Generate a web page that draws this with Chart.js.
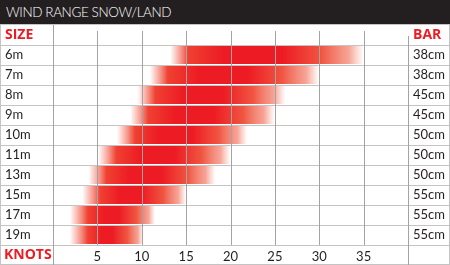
<!DOCTYPE html>
<html>
<head>
<meta charset="utf-8">
<script src="https://cdn.jsdelivr.net/npm/chart.js@4/dist/chart.umd.min.js"></script>
<style>
  html, body { margin:0; padding:0; background:#fff; }
  #wrap { position:relative; width:450px; height:265px; overflow:hidden; }
  #title { position:absolute; left:0; top:0; width:450px; height:24px; background:#231f20; color:#fff;
           font-family:"Lato","DejaVu Sans",sans-serif; font-weight:300; font-size:13.5px; line-height:24px; padding-left:6px; box-sizing:border-box; z-index:2; letter-spacing:-0.4px;}
  canvas { position:absolute; left:0; top:0; }
</style>
</head>
<body>
<div id="wrap">
  <div id="title">WIND RANGE SNOW/LAND</div>
  <canvas id="c" width="450" height="265"></canvas>
</div>
<script>
// ---- data ----
const sizes = ['SIZE', '6m', '7m', '8m', '9m', '10m', '11m', '13m', '15m', '17m', '19m'];
const barLengths = ['BAR', '38cm', '38cm', '45cm', '45cm', '50cm', '50cm', '50cm', '55cm', '55cm', '55cm'];
const windMin = [null, 13.2, 10.9, 9.5, 8.7, 7.2, 5.1, 4.0, 3.3, 1.9, 1.9];
const windMax = [null, 35.0, 30.0, 26.2, 25.0, 21.9, 20.0, 18.3, 15.0, 11.5, 10.2];
const knotTicks = [5, 10, 15, 20, 25, 30, 35];
const xMin = 0, xMax = 40;

const RED = '#ed1c24';
const ranges = windMin.map((v, i) => v === null ? null : [v, windMax[i]]);

function barGradient(ctx) {
  const chart = ctx.chart;
  if (!chart.chartArea || !ctx.raw) return RED;
  const xs = chart.scales.x;
  const x0 = xs.getPixelForValue(ctx.raw[0]);
  const x1 = xs.getPixelForValue(ctx.raw[1]);
  const w = Math.max(1, x1 - x0);
  const g = chart.ctx.createLinearGradient(x0, 0, x1, 0);
  const lf = Math.min(0.3, 18 / w);
  const rf = 0.22;
  g.addColorStop(0, 'rgba(240,80,60,0)');
  g.addColorStop(lf * 0.5, 'rgba(240,80,60,0.5)');
  g.addColorStop(lf, 'rgba(239,65,50,1)');
  g.addColorStop(Math.min(0.5, lf + 0.18), 'rgba(237,28,36,1)');
  g.addColorStop(0.58, 'rgba(237,28,36,1)');
  g.addColorStop(1 - rf, 'rgba(240,85,65,1)');
  g.addColorStop(1 - rf * 0.35, 'rgba(243,125,105,0.7)');
  g.addColorStop(1, 'rgba(245,145,125,0)');
  return g;
}

const gridPlugin = {
  id: 'gridLines',
  afterDatasetsDraw(chart) {
    const c = chart.ctx;
    const xs = chart.scales.x, ys = chart.scales.y;
    const W = chart.width, H = chart.height;
    c.save();
    // horizontal row lines across full width
    c.strokeStyle = '#c4c4c4';
    c.lineWidth = 1;
    for (let i = 0; i < sizes.length; i++) {
      const yb = Math.round(ys.getPixelForValue(i) + ys.height / sizes.length / 2) + 0.5;
      c.beginPath(); c.moveTo(0, yb); c.lineTo(W, yb); c.stroke();
    }
    c.beginPath(); c.moveTo(0, 24.5); c.lineTo(W, 24.5); c.stroke();
    c.beginPath(); c.moveTo(0, H - 0.5); c.lineTo(W, H - 0.5); c.stroke();
    c.beginPath(); c.moveTo(0.5, 24); c.lineTo(0.5, H); c.stroke();
    c.beginPath(); c.moveTo(W - 0.5, 24); c.lineTo(W - 0.5, H); c.stroke();
    // vertical knot lines
    c.strokeStyle = '#a3a3a3';
    const top = chart.chartArea.top, bot = chart.chartArea.bottom;
    for (let k = xMin; k <= xMax; k += 5) {
      const xp = Math.round(xs.getPixelForValue(k)) + 0.5;
      c.beginPath();
      if (k === xMin) { c.moveTo(xp, top); c.lineTo(xp, H); }
      else if (k === xMax) { c.moveTo(xp, top + 11); c.lineTo(xp, H); }
      else { c.moveTo(xp, top + 6); c.lineTo(xp, bot); }
      c.stroke();
    }
    // KNOTS label
    c.fillStyle = RED;
    c.font = 'bold 14px "Open Sans", "DejaVu Sans", sans-serif';
    c.textAlign = 'left';
    c.textBaseline = 'middle';
    c.fillText('KNOTS', 4, (bot + H) / 2 + 0.5);
    c.restore();
  }
};

new Chart(document.getElementById('c'), {
  type: 'bar',
  data: {
    labels: sizes,
    datasets: [{
      data: ranges,
      backgroundColor: barGradient,
      borderWidth: 0,
      barPercentage: 0.9,
      categoryPercentage: 1.0,
      yAxisID: 'y'
    }]
  },
  options: {
    indexAxis: 'y',
    responsive: false,
    animation: false,
    events: [],
    layout: { padding: { top: 25, left: 5, right: 0, bottom: 0 } },
    plugins: { legend: { display: false }, tooltip: { enabled: false }, title: { display: false } },
    scales: {
      x: {
        type: 'linear', min: xMin, max: xMax,
        afterBuildTicks(s) { s.ticks = knotTicks.map(v => ({ value: v })); },
        afterFit(s) { s.height = 20; },
        grid: { display: false, drawTicks: false },
        border: { display: false },
        ticks: {
          color: '#231f20', padding: 4,
          font: { family: '"Lato", "DejaVu Sans", sans-serif', size: 13 }
        }
      },
      y: {
        type: 'category', position: 'left',
        afterFit(s) { s.width = 48; },
        grid: { display: false, drawTicks: false },
        border: { display: false },
        ticks: {
          crossAlign: 'far', padding: 0,
          color: (c) => c.index === 0 ? RED : '#231f20',
          font: (c) => c.index === 0
            ? { family: '"Open Sans", "DejaVu Sans", sans-serif', size: 14, weight: 'bold' }
            : { family: '"Lato", "DejaVu Sans", sans-serif', size: 13 }
        }
      },
      y2: {
        type: 'category', position: 'right', labels: barLengths,
        afterFit(s) { s.width = 42; },
        grid: { display: false, drawTicks: false },
        border: { display: false },
        ticks: {
          crossAlign: 'near', padding: 5,
          color: (c) => c.index === 0 ? RED : '#231f20',
          font: (c) => c.index === 0
            ? { family: '"Open Sans", "DejaVu Sans", sans-serif', size: 14, weight: 'bold' }
            : { family: '"Lato", "DejaVu Sans", sans-serif', size: 13 }
        }
      }
    }
  },
  plugins: [gridPlugin]
});
</script>
</body>
</html>
